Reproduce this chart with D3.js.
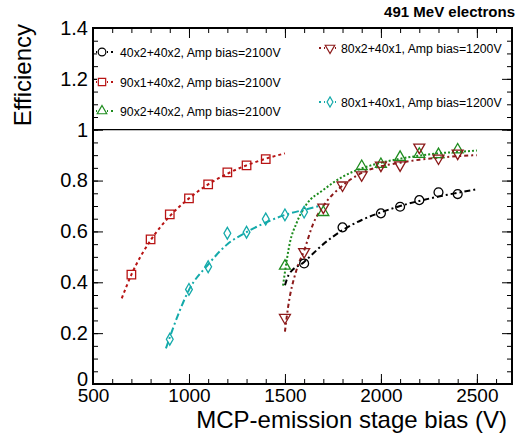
<!DOCTYPE html>
<html>
<head>
<meta charset="utf-8">
<script src="https://cdnjs.cloudflare.com/ajax/libs/d3/7.8.5/d3.min.js"></script>
<style>
  body { margin: 0; background: #fff; }
  svg { display: block; font-family: "Liberation Sans", Arial, Helvetica, sans-serif; }
</style>
</head>
<body>
<script>
// measured points (MCP-emission stage bias in V, efficiency)
var voltCirc = [1600, 1800, 2000, 2100, 2200, 2300, 2400];
var effCirc  = [0.474, 0.616, 0.671, 0.697, 0.723, 0.754, 0.747];

var voltSq = [700, 800, 900, 1000, 1100, 1200, 1300, 1400];
var effSq  = [0.43, 0.569, 0.667, 0.73, 0.785, 0.832, 0.86, 0.884];

var voltUp = [1500, 1700, 1900, 2000, 2100, 2200, 2300, 2400];
var effUp  = [0.464, 0.675, 0.856, 0.864, 0.892, 0.904, 0.903, 0.921];

var voltDn = [1500, 1600, 1700, 1800, 1900, 2000, 2100, 2200, 2300, 2400];
var effDn  = [0.261, 0.52, 0.695, 0.782, 0.822, 0.86, 0.861, 0.931, 0.888, 0.907];

var voltDia = [900, 1000, 1100, 1200, 1300, 1400, 1500, 1600];
var effDia  = [0.176, 0.372, 0.461, 0.593, 0.597, 0.649, 0.665, 0.676];

// fit curves
var fitCircV = [1500, 1520, 1600, 1700, 1800, 1900, 2000, 2100, 2200, 2300, 2400, 2500];
var fitCircE = [0.388, 0.43, 0.48, 0.55, 0.605, 0.645, 0.675, 0.70, 0.72, 0.737, 0.752, 0.766];

var fitSqV = [650, 700, 800, 900, 1000, 1100, 1200, 1300, 1400, 1500];
var fitSqE = [0.337, 0.43, 0.565, 0.66, 0.73, 0.785, 0.827, 0.86, 0.886, 0.907];

var fitUpV = [1490, 1500, 1525, 1560, 1610, 1700, 1800, 1900, 2000, 2100, 2200, 2300, 2400, 2500];
var fitUpE = [0.387, 0.44, 0.553, 0.632, 0.704, 0.763, 0.815, 0.848, 0.87, 0.886, 0.898, 0.907, 0.913, 0.918];

var fitDnV = [1500, 1516, 1560, 1600, 1647, 1700, 1800, 1900, 2000, 2100, 2200, 2300, 2400, 2500];
var fitDnE = [0.206, 0.30, 0.448, 0.525, 0.63, 0.70, 0.78, 0.83, 0.856, 0.87, 0.882, 0.89, 0.896, 0.90];

var fitDiaV = [880, 950, 1000, 1100, 1200, 1300, 1400, 1500, 1600, 1680];
var fitDiaE = [0.14, 0.285, 0.37, 0.47, 0.55, 0.597, 0.635, 0.665, 0.685, 0.70];

var seriesNames = [
  "40x2+40x2, Amp bias=2100V",
  "90x1+40x2, Amp bias=2100V",
  "90x2+40x2, Amp bias=2100V",
  "80x2+40x1, Amp bias=1200V",
  "80x1+40x1, Amp bias=1200V"
];

var xTicks = [500, 1000, 1500, 2000, 2500];
var xTickLabels = ["500", "1000", "1500", "2000", "2500"];
var yTicks = [0, 0.2, 0.4, 0.6, 0.8, 1, 1.2, 1.4];
var yTickLabels = ["0", "0.2", "0.4", "0.6", "0.8", "1", "1.2", "1.4"];

var width = 518;
var height = 436;
var frame = { left: 93, right: 512, top: 28, bottom: 384 };

var svg = d3.select("body").append("svg")
  .attr("width", width)
  .attr("height", height);

var xScale = d3.scaleLinear()
  .domain([500, 2683])
  .range([frame.left, frame.right]);

var yScale = d3.scaleLinear()
  .domain([0, 1.4])
  .range([frame.bottom, frame.top]);

function zip(a, b) {
  return a.map(function (v, i) { return [v, b[i]]; });
}

var series = [
  { name: seriesNames[0], pts: zip(voltCirc, effCirc), fit: zip(fitCircV, fitCircE),
    color: "#000000", symbol: d3.symbolCircle, size: 62, rot: 0, dash: "6,3,2,3" },
  { name: seriesNames[1], pts: zip(voltSq, effSq), fit: zip(fitSqV, fitSqE),
    color: "#b81414", symbol: d3.symbolSquare, size: 72, rot: 0, dash: "3,3" },
  { name: seriesNames[2], pts: zip(voltUp, effUp), fit: zip(fitUpV, fitUpE),
    color: "#1e8c1e", symbol: d3.symbolTriangle, size: 52, rot: 0, dash: "2,2" },
  { name: seriesNames[3], pts: zip(voltDn, effDn), fit: zip(fitDnV, fitDnE),
    color: "#8c1a1a", symbol: d3.symbolTriangle, size: 52, rot: 180, dash: "4,3,2,3" },
  { name: seriesNames[4], pts: zip(voltDia, effDia), fit: zip(fitDiaV, fitDiaE),
    color: "#14aaaa", symbol: d3.symbolDiamond, size: 40, rot: 0, dash: "7,3,2,3" }
];

// axes, ROOT style: ticks pointing into the frame on all four sides
var xMinor = d3.range(500, 2700, 100);
var yMinor = d3.range(0, 1.401, 0.05);

function noDomain(g) { g.select(".domain").remove(); }

svg.append("g")
  .attr("transform", "translate(0," + frame.bottom + ")")
  .call(d3.axisBottom(xScale).tickValues(xMinor).tickSize(-5).tickFormat(""))
  .call(noDomain);
var xAxisG = svg.append("g")
  .attr("transform", "translate(0," + frame.bottom + ")")
  .call(d3.axisBottom(xScale).tickValues(xTicks).tickSize(-10).tickPadding(5)
    .tickFormat(function (d, i) { return xTickLabels[i]; }))
  .call(noDomain);
xAxisG.selectAll("text")
  .attr("font-size", "19px")
  .attr("font-family", "'Liberation Sans', Arial, sans-serif")
  .attr("fill", "#000");

svg.append("g")
  .attr("transform", "translate(0," + frame.top + ")")
  .call(d3.axisTop(xScale).tickValues(xMinor).tickSize(-5).tickFormat(""))
  .call(noDomain);
svg.append("g")
  .attr("transform", "translate(0," + frame.top + ")")
  .call(d3.axisTop(xScale).tickValues(xTicks).tickSize(-10).tickFormat(""))
  .call(noDomain);

svg.append("g")
  .attr("transform", "translate(" + frame.left + ",0)")
  .call(d3.axisLeft(yScale).tickValues(yMinor).tickSize(-5).tickFormat(""))
  .call(noDomain);
var yAxisG = svg.append("g")
  .attr("transform", "translate(" + frame.left + ",0)")
  .call(d3.axisLeft(yScale).tickValues(yTicks).tickSize(-10).tickPadding(5)
    .tickFormat(function (d, i) { return yTickLabels[i]; }))
  .call(noDomain);
yAxisG.selectAll("text")
  .attr("font-size", "20px")
  .attr("font-family", "'Liberation Sans', Arial, sans-serif")
  .attr("fill", "#000");
// the "0" label sits a little higher so it clears the "500" below it
yAxisG.selectAll("text")
  .filter(function (d) { return d === 0; })
  .attr("dy", "0.05em");

svg.append("g")
  .attr("transform", "translate(" + frame.right + ",0)")
  .call(d3.axisRight(yScale).tickValues(yMinor).tickSize(-5).tickFormat(""))
  .call(noDomain);
svg.append("g")
  .attr("transform", "translate(" + frame.right + ",0)")
  .call(d3.axisRight(yScale).tickValues(yTicks).tickSize(-10).tickFormat(""))
  .call(noDomain);

// line at efficiency = 1
svg.append("line")
  .attr("x1", frame.left).attr("x2", frame.right)
  .attr("y1", yScale(1)).attr("y2", yScale(1))
  .attr("stroke", "#000")
  .attr("stroke-width", 1.2);

// fits
var line = d3.line()
  .x(function (d) { return xScale(d[0]); })
  .y(function (d) { return yScale(d[1]); })
  .curve(d3.curveMonotoneX);

series.forEach(function (s) {
  svg.append("path")
    .attr("d", line(s.fit))
    .attr("fill", "none")
    .attr("stroke", s.color)
    .attr("stroke-width", 2)
    .attr("stroke-dasharray", s.dash);
});

// markers
series.forEach(function (s) {
  var sym = d3.symbol().type(s.symbol).size(s.size);
  svg.append("g").selectAll("path")
    .data(s.pts)
    .enter()
    .append("path")
    .attr("d", sym)
    .attr("transform", function (d) {
      return "translate(" + xScale(d[0]) + "," + yScale(d[1]) + ") rotate(" + s.rot + ")";
    })
    .attr("fill", "none")
    .attr("stroke", s.color)
    .attr("stroke-width", 1.3);
});

// frame
svg.append("rect")
  .attr("x", frame.left).attr("y", frame.top)
  .attr("width", frame.right - frame.left)
  .attr("height", frame.bottom - frame.top)
  .attr("fill", "none")
  .attr("stroke", "#000")
  .attr("stroke-width", 2);

// legends
var legendPos = [
  { x: 102, y: 52, x0: 96, x1: 114, tx: 120 },
  { x: 102, y: 82, x0: 96, x1: 114, tx: 120 },
  { x: 102, y: 111, x0: 96, x1: 114, tx: 120 },
  { x: 330, y: 48, x0: 319, x1: 338, tx: 341 },
  { x: 330, y: 102, x0: 319, x1: 338, tx: 341 }
];

series.forEach(function (s, i) {
  var p = legendPos[i];
  var g = svg.append("g");
  g.append("line")
    .attr("x1", p.x0).attr("x2", p.x1)
    .attr("y1", p.y).attr("y2", p.y)
    .attr("stroke", s.color)
    .attr("stroke-width", 2)
    .attr("stroke-dasharray", "2,3");
  g.append("rect")
    .attr("x", p.x - 5).attr("y", p.y - 5)
    .attr("width", 10).attr("height", 10)
    .attr("fill", "#fff");
  g.append("path")
    .attr("d", d3.symbol().type(s.symbol).size(s.size * 0.75))
    .attr("transform", "translate(" + p.x + "," + p.y + ") rotate(" + s.rot + ")")
    .attr("fill", "none")
    .attr("stroke", s.color)
    .attr("stroke-width", 1.2);
  g.append("text")
    .attr("x", p.tx)
    .attr("y", p.y + 4.5)
    .attr("font-size", "12.3px")
    .text(s.name);
});

// titles
svg.append("text")
  .attr("x", 515)
  .attr("y", 17)
  .attr("text-anchor", "end")
  .attr("font-size", "15px")
  .attr("font-weight", "bold")
  .text("491 MeV electrons");

svg.append("text")
  .attr("x", 507)
  .attr("y", 428)
  .attr("text-anchor", "end")
  .attr("font-size", "24px")
  .text("MCP-emission stage bias (V)");

svg.append("text")
  .attr("transform", "translate(31,24) rotate(-90)")
  .attr("text-anchor", "end")
  .attr("font-size", "24px")
  .text("Efficiency");
</script>
</body>
</html>
